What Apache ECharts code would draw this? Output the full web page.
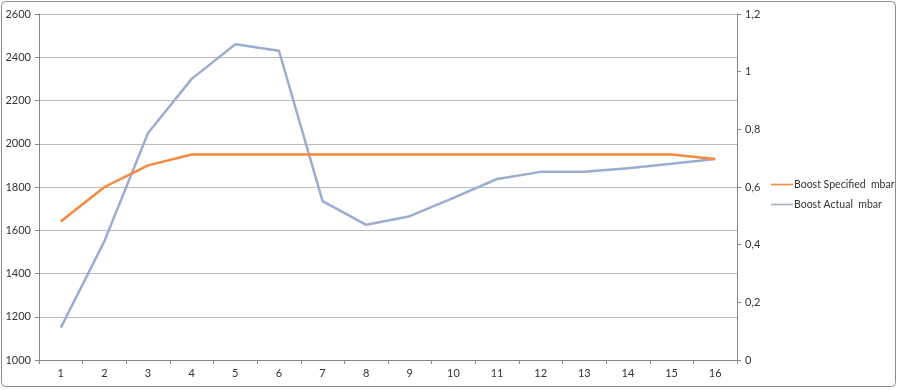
<!DOCTYPE html>
<html>
<head>
<meta charset="utf-8">
<script src="https://cdn.jsdelivr.net/npm/echarts@6/dist/echarts.min.js"></script>
<style>html,body{margin:0;padding:0;background:#fff;}#c{width:900px;height:390px;}</style>
</head>
<body>
<div id="c"></div>
<script>
const categories = ['1','2','3','4','5','6','7','8','9','10','11','12','13','14','15','16'];
const boostSpecified = [1640, 1800, 1900, 1950, 1950, 1950, 1950, 1950, 1950, 1950, 1950, 1950, 1950, 1950, 1950, 1930];
const boostActual = [1150, 1550, 2050, 2300, 2460, 2430, 1735, 1625, 1665, 1750, 1837, 1870, 1870, 1887, 1908, 1930];
const seriesNames = ['Boost Specified  mbar', 'Boost Actual  mbar'];

const chart = echarts.init(document.getElementById('c'), null, {renderer: 'canvas'});
const font = 'Lato, "Liberation Sans", Arial, sans-serif';
chart.setOption({
  animation: false,
  backgroundColor: '#ffffff',
  textStyle: {fontFamily: font},
  graphic: [{
    type: 'rect', shape: {x: 1.5, y: 1.5, width: 894, height: 385, r: 4},
    style: {fill: 'none', stroke: '#8c8c8c', lineWidth: 1}, silent: true
  }],
  grid: {left: 39, right: 163, top: 14, bottom: 30, containLabel: false},
  legend: {
    orient: 'vertical', left: 771, top: 179, padding: 0,
    itemWidth: 22, itemHeight: 10, itemGap: 9,
    textStyle: {fontFamily: font, fontSize: 10.5, color: '#333', padding: [0,0,0,-4]},
    data: seriesNames.map(n => ({name: n, icon: 'path://M0,4.2 L22,4.2 L22,5.8 L0,5.8 Z'}))
  },
  xAxis: {
    type: 'category', data: categories, boundaryGap: true,
    axisLine: {lineStyle: {color: '#868686', width: 1}},
    axisTick: {show: true, alignWithLabel: false, length: 4, lineStyle: {color: '#868686'}},
    axisLabel: {fontFamily: font, fontSize: 11, color: '#333', margin: 8},
    splitLine: {show: false}
  },
  yAxis: [{
    type: 'value', min: 1000, max: 2600, interval: 200, position: 'left',
    axisLine: {show: true, lineStyle: {color: '#868686'}},
    axisTick: {show: true, length: 4, lineStyle: {color: '#868686'}},
    axisLabel: {fontFamily: font, fontSize: 11, color: '#333', margin: 8, formatter: v => String(v)},
    splitLine: {show: true, lineStyle: {color: '#bcbcbc', width: 1}}
  }, {
    type: 'value', min: 0, max: 1.2, interval: 0.2, position: 'right',
    axisLine: {show: true, lineStyle: {color: '#868686'}},
    axisTick: {show: true, length: 4, lineStyle: {color: '#868686'}},
    axisLabel: {fontFamily: font, fontSize: 11, color: '#333', margin: 8,
      formatter: v => String(+(+v).toFixed(1)).replace('.', ',')},
    splitLine: {show: false}
  }],
  series: [{
    name: seriesNames[0], type: 'line', data: boostSpecified, yAxisIndex: 0,
    symbol: 'none', lineStyle: {color: '#F58A3C', width: 2.5}, itemStyle: {color: '#F58A3C'}, z: 3
  }, {
    name: seriesNames[1], type: 'line', data: boostActual, yAxisIndex: 0,
    symbol: 'none', lineStyle: {color: '#9BAED0', width: 2.5}, itemStyle: {color: '#9BAED0'}, z: 2
  }]
});
</script>
</body>
</html>
